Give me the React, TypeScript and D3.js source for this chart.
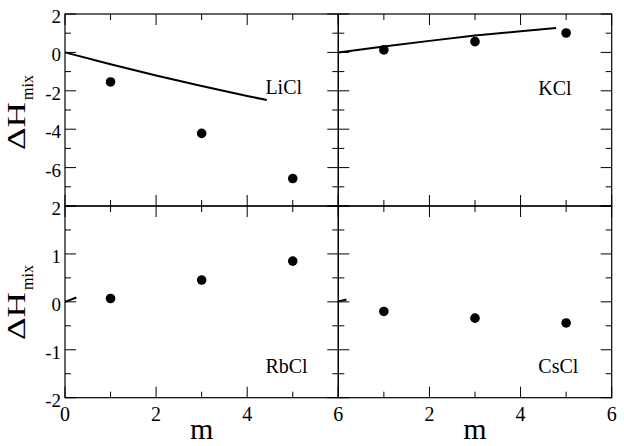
import { useEffect, useRef } from "react";
import * as d3 from "d3";

// molality of the simulated points
const mVals = [1, 3, 5];

// simulation points (dots)
const liclDots = [-1.54, -4.22, -6.57];
const kclDots = [0.13, 0.56, 1.01];
const rbclDots = [0.07, 0.455, 0.85];
const csclDots = [-0.2, -0.34, -0.44];

// experimental curves (lines)
const liclLineM = [0, 1, 2, 3, 4, 4.43];
const liclLineH = [0, -0.62, -1.2, -1.75, -2.27, -2.48];
const kclLineM = [0, 1, 2, 3, 4, 4.78];
const kclLineH = [0, 0.31, 0.6, 0.88, 1.1, 1.27];
const rbclLineM = [0, 0.25];
const rbclLineH = [0, 0.09];
const csclLineM = [0, 0.18];
const csclLineH = [0.01, 0.05];

const xTickLabels = [0, 2, 4, 6];
const topTickLabels = [2, 0, -2, -4, -6];
const bottomTickLabels = [2, 1, 0, -1, -2];

const FONT = "'Liberation Serif', 'DejaVu Serif', serif";

const App = () => {
    const container = useRef<SVGSVGElement>(null);

    useEffect(() => {
        const svg = d3.select(container.current);
        svg.selectAll("*").remove();

        const W = 624, H = 446;
        const xEdges = [65, 338.3, 611.7];
        const yEdges = [14, 206, 397.7];

        const panels = [
            { name: "LiCl", col: 0, row: 0, dom: [-8, 2], major: 2, minor: 1, dots: liclDots, lm: liclLineM, lh: liclLineH, lab: [4.4, -2.15] },
            { name: "KCl", col: 1, row: 0, dom: [-8, 2], major: 2, minor: 1, dots: kclDots, lm: kclLineM, lh: kclLineH, lab: [4.39, -2.2] },
            { name: "RbCl", col: 0, row: 1, dom: [-2, 2], major: 1, minor: 0.5, dots: rbclDots, lm: rbclLineM, lh: rbclLineH, lab: [4.4, -1.49] },
            { name: "CsCl", col: 1, row: 1, dom: [-2, 2], major: 1, minor: 0.5, dots: csclDots, lm: csclLineM, lh: csclLineH, lab: [4.39, -1.49] },
        ];

        const majorLen = 11, minorLen = 6;

        panels.forEach((p) => {
            const x0 = xEdges[p.col], x1 = xEdges[p.col + 1];
            const y0 = yEdges[p.row], y1 = yEdges[p.row + 1];
            const x = d3.scaleLinear().domain([0, 6]).range([x0, x1]);
            const y = d3.scaleLinear().domain(p.dom).range([y1, y0]);
            const g = svg.append("g");

            g.append("rect")
                .attr("x", x0).attr("y", y0)
                .attr("width", x1 - x0).attr("height", y1 - y0)
                .attr("fill", "none").attr("stroke", "#000").attr("stroke-width", 1.2);

            // x ticks, top and bottom, pointing inward
            d3.range(0, 6.01, 1).forEach((v) => {
                const len = v % 2 === 0 ? majorLen : minorLen;
                g.append("line").attr("x1", x(v)).attr("x2", x(v)).attr("y1", y1).attr("y2", y1 - len)
                    .attr("stroke", "#000").attr("stroke-width", 1);
                g.append("line").attr("x1", x(v)).attr("x2", x(v)).attr("y1", y0).attr("y2", y0 + len)
                    .attr("stroke", "#000").attr("stroke-width", 1);
            });

            // y ticks, left and right, pointing inward
            const n = Math.round((p.dom[1] - p.dom[0]) / p.minor);
            d3.range(0, n + 1).forEach((i) => {
                const v = p.dom[0] + i * p.minor;
                const isMajor = Math.abs(v / p.major - Math.round(v / p.major)) < 1e-6;
                const len = isMajor ? majorLen : minorLen;
                g.append("line").attr("x1", x0).attr("x2", x0 + len).attr("y1", y(v)).attr("y2", y(v))
                    .attr("stroke", "#000").attr("stroke-width", 1);
                g.append("line").attr("x1", x1).attr("x2", x1 - len).attr("y1", y(v)).attr("y2", y(v))
                    .attr("stroke", "#000").attr("stroke-width", 1);
            });

            // line
            const line = d3.line<number>()
                .x((d, i) => x(p.lm[i]))
                .y((d) => y(d));
            g.append("path")
                .attr("d", line(p.lh))
                .attr("fill", "none")
                .attr("stroke", "#000")
                .attr("stroke-width", 2);

            // dots
            g.selectAll("circle.dot")
                .data(p.dots)
                .join("circle")
                .attr("cx", (d, i) => x(mVals[i]))
                .attr("cy", (d) => y(d))
                .attr("r", 4.8)
                .attr("fill", "#000");

            g.append("text")
                .attr("x", x(p.lab[0])).attr("y", y(p.lab[1]))
                .text(p.name)
                .style("font-family", FONT).style("font-size", "20px");

            // left-column y tick labels
            if (p.col === 0) {
                const labels = p.row === 0 ? topTickLabels : bottomTickLabels;
                labels.forEach((v) => {
                    g.append("text")
                        .attr("x", x0 - 4).attr("y", y(v) + 9)
                        .attr("text-anchor", "end")
                        .text(String(v).replace("-", "-"))
                        .style("font-family", FONT).style("font-size", "19px");
                });
            }

            // bottom-row x tick labels and title
            if (p.row === 1) {
                xTickLabels.filter((v) => p.col === 0 || v > 0).forEach((v) => {
                    g.append("text")
                        .attr("x", x(v)).attr("y", y1 + 23)
                        .attr("text-anchor", "middle")
                        .text(v)
                        .style("font-family", FONT).style("font-size", "20px");
                });
                g.append("text")
                    .attr("x", x(3)).attr("y", 439)
                    .attr("text-anchor", "middle")
                    .text("m")
                    .style("font-family", FONT).style("font-size", "30px");
            }

            // y title
            if (p.col === 0) {
                const cy = p.row === 0 ? 150 : 340;
                const t = svg.append("g").attr("transform", `translate(25, ${cy}) rotate(-90)`);
                t.append("text")
                    .attr("x", 0).attr("y", 0)
                    .attr("textLength", 48)
                    .attr("lengthAdjust", "spacingAndGlyphs")
                    .text("ΔH")
                    .style("font-family", FONT).style("font-size", "26px");
                t.append("text")
                    .attr("x", 50).attr("y", 8)
                    .text("mix")
                    .style("font-family", FONT).style("font-size", "16px");
            }
        });

        svg.attr("width", W).attr("height", H);
    }, []);

    return (
        <div style={{ position: "absolute", left: 0, top: 0 }}>
            <svg ref={container} width={624} height={446} style={{ display: "block", background: "#fff" }}></svg>
        </div>
    );
};

export default App;
